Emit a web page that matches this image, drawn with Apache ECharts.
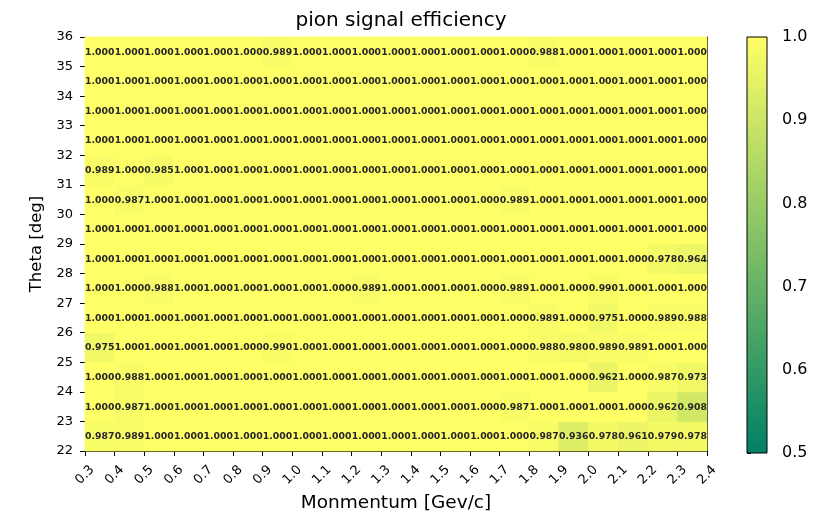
<!DOCTYPE html>
<html><head><meta charset="utf-8">
<script src="https://cdn.jsdelivr.net/npm/echarts@6/dist/echarts.min.js"></script>
<style>html,body{margin:0;padding:0;background:#fff}#c{width:833px;height:518px}</style>
</head><body><div id="c"></div>
<script>
const momentumTicks = ['0.3','0.4','0.5','0.6','0.7','0.8','0.9','1.0','1.1','1.2','1.3','1.4','1.5','1.6','1.7','1.8','1.9','2.0','2.1','2.2','2.3','2.4'];
const thetaBins = [22,23,24,25,26,27,28,29,30,31,32,33,34,35];
const colorbarTicks = [0.5,0.6,0.7,0.8,0.9,1.0];
const vMin = 0.5, vMax = 1.0;

const theta22 = [0.987,0.989,1.000,1.000,1.000,1.000,1.000,1.000,1.000,1.000,1.000,1.000,1.000,1.000,1.000,0.987,0.936,0.978,0.961,0.979,0.978];
const theta23 = [1.000,0.987,1.000,1.000,1.000,1.000,1.000,1.000,1.000,1.000,1.000,1.000,1.000,1.000,0.987,1.000,1.000,1.000,1.000,0.962,0.908];
const theta24 = [1.000,0.988,1.000,1.000,1.000,1.000,1.000,1.000,1.000,1.000,1.000,1.000,1.000,1.000,1.000,1.000,1.000,0.962,1.000,0.987,0.973];
const theta25 = [0.975,1.000,1.000,1.000,1.000,1.000,0.990,1.000,1.000,1.000,1.000,1.000,1.000,1.000,1.000,0.988,0.980,0.989,0.989,1.000,1.000];
const theta26 = [1.000,1.000,1.000,1.000,1.000,1.000,1.000,1.000,1.000,1.000,1.000,1.000,1.000,1.000,1.000,0.989,1.000,0.975,1.000,0.989,0.988];
const theta27 = [1.000,1.000,0.988,1.000,1.000,1.000,1.000,1.000,1.000,0.989,1.000,1.000,1.000,1.000,0.989,1.000,1.000,0.990,1.000,1.000,1.000];
const theta28 = [1.000,1.000,1.000,1.000,1.000,1.000,1.000,1.000,1.000,1.000,1.000,1.000,1.000,1.000,1.000,1.000,1.000,1.000,1.000,0.978,0.964];
const theta29 = [1.000,1.000,1.000,1.000,1.000,1.000,1.000,1.000,1.000,1.000,1.000,1.000,1.000,1.000,1.000,1.000,1.000,1.000,1.000,1.000,1.000];
const theta30 = [1.000,0.987,1.000,1.000,1.000,1.000,1.000,1.000,1.000,1.000,1.000,1.000,1.000,1.000,0.989,1.000,1.000,1.000,1.000,1.000,1.000];
const theta31 = [0.989,1.000,0.985,1.000,1.000,1.000,1.000,1.000,1.000,1.000,1.000,1.000,1.000,1.000,1.000,1.000,1.000,1.000,1.000,1.000,1.000];
const theta32 = [1.000,1.000,1.000,1.000,1.000,1.000,1.000,1.000,1.000,1.000,1.000,1.000,1.000,1.000,1.000,1.000,1.000,1.000,1.000,1.000,1.000];
const theta33 = [1.000,1.000,1.000,1.000,1.000,1.000,1.000,1.000,1.000,1.000,1.000,1.000,1.000,1.000,1.000,1.000,1.000,1.000,1.000,1.000,1.000];
const theta34 = [1.000,1.000,1.000,1.000,1.000,1.000,1.000,1.000,1.000,1.000,1.000,1.000,1.000,1.000,1.000,1.000,1.000,1.000,1.000,1.000,1.000];
const theta35 = [1.000,1.000,1.000,1.000,1.000,1.000,0.989,1.000,1.000,1.000,1.000,1.000,1.000,1.000,1.000,0.988,1.000,1.000,1.000,1.000,1.000];

const rows = [theta22,theta23,theta24,theta25,theta26,theta27,theta28,theta29,theta30,theta31,theta32,theta33,theta34,theta35];
const cells = [];
rows.forEach((row, r) => row.forEach((v, c) => cells.push([c, thetaBins[r], v])));

const FONT = '"DejaVu Sans", sans-serif';
const cmapLow = '#008066', cmapHigh = '#ffff66';

const chart = echarts.init(document.getElementById('c'), null, {renderer: 'canvas'});
chart.setOption({
  animation: false,
  backgroundColor: '#fff',
  title: {text: 'pion signal efficiency', left: 396, top: 6, textAlign: 'center',
    textStyle: {fontFamily: FONT, fontSize: 20, fontWeight: 'normal', color: '#000'}},
  grid: [
    {left: 85, top: 37, width: 622, height: 416},
    {left: 747, top: 37, width: 20, height: 416}
  ],
  visualMap: {show: false, type: 'continuous', min: vMin, max: vMax, dimension: 2, seriesIndex: 0,
    inRange: {color: [cmapLow, cmapHigh]}},
  xAxis: [
    {type: 'value', gridIndex: 0, min: 0, max: momentumTicks.length - 1, interval: 1,
     name: 'Monmentum [Gev/c]', nameLocation: 'middle', nameGap: 43,
     nameTextStyle: {fontFamily: FONT, fontSize: 18.5, color: '#000'},
     axisLine: {show: true, lineStyle: {color: '#000', width: 1}},
     axisTick: {show: true, length: 5, lineStyle: {color: '#000'}},
     splitLine: {show: false},
     axisLabel: {fontFamily: FONT, fontSize: 13, color: '#000', rotate: 45, margin: 24,
       align: 'center', verticalAlign: 'middle',
       formatter: v => momentumTicks[Math.round(v)]}},
    {type: 'value', gridIndex: 0, position: 'top', min: 0, max: momentumTicks.length - 1,
     axisLine: {show: true, onZero: false, lineStyle: {color: '#000', width: 1}},
     axisTick: {show: false}, axisLabel: {show: false}, splitLine: {show: false}},
    {type: 'value', gridIndex: 1, min: 0, max: 1, show: false}
  ],
  yAxis: [
    {type: 'value', gridIndex: 0, min: 22, max: 36, interval: 1,
     name: 'Theta [deg]', nameLocation: 'middle', nameGap: 39,
     nameTextStyle: {fontFamily: FONT, fontSize: 16.5, color: '#000'},
     axisLine: {show: true, lineStyle: {color: '#000', width: 1}},
     axisTick: {show: true, length: 5, lineStyle: {color: '#000'}},
     splitLine: {show: false},
     axisLabel: {fontFamily: FONT, fontSize: 13, color: '#000', margin: 12}},
    {type: 'value', gridIndex: 0, position: 'right', min: 22, max: 36,
     axisLine: {show: true, onZero: false, lineStyle: {color: '#000', width: 1}},
     axisTick: {show: false}, axisLabel: {show: false}, splitLine: {show: false}},
    {type: 'value', gridIndex: 1, position: 'right', min: vMin, max: vMax, interval: 0.1,
     axisLine: {show: false},
     axisTick: {show: true, length: 4, lineStyle: {color: '#000'}},
     splitLine: {show: false},
     axisLabel: {fontFamily: FONT, fontSize: 16, color: '#000', margin: 15,
       formatter: v => v.toFixed(1)}}
  ],
  series: [
    {type: 'custom', xAxisIndex: 0, yAxisIndex: 0, data: cells, z: 2,
     renderItem: (params, api) => {
       const xi = api.value(0), y = api.value(1);
       const p0 = api.coord([xi, y + 1]);
       const p1 = api.coord([xi + 1, y]);
       const col = api.visual('color');
       return {type: 'rect', shape: {x: p0[0], y: p0[1], width: p1[0] - p0[0], height: p1[1] - p0[1]},
         style: {fill: col, stroke: col, lineWidth: 0.8}};
     }},
    {type: 'custom', xAxisIndex: 0, yAxisIndex: 0, data: cells, z: 3,
     renderItem: (params, api) => {
       const xi = api.value(0), y = api.value(1), v = api.value(2);
       const p = api.coord([xi + 0.5, y + 0.5]);
       return {type: 'text', style: {text: v.toFixed(3), x: p[0], y: p[1] + 0.5, align: 'center',
         verticalAlign: 'middle', font: 'bold 9.3px ' + FONT, fill: '#262626'}};
     }},
    {type: 'custom', xAxisIndex: 2, yAxisIndex: 2, data: [[vMin, vMax]], z: 2,
     renderItem: (params, api) => {
       const p0 = api.coord([0, api.value(1)]);
       const p1 = api.coord([1, api.value(0)]);
       return {type: 'rect', shape: {x: p0[0], y: p0[1], width: p1[0] - p0[0], height: p1[1] - p0[1]},
         style: {stroke: '#000', lineWidth: 1,
           fill: new echarts.graphic.LinearGradient(0, 0, 0, 1, [
             {offset: 0, color: cmapHigh}, {offset: 1, color: cmapLow}])}};
     }}
  ]
});
</script></body></html>
